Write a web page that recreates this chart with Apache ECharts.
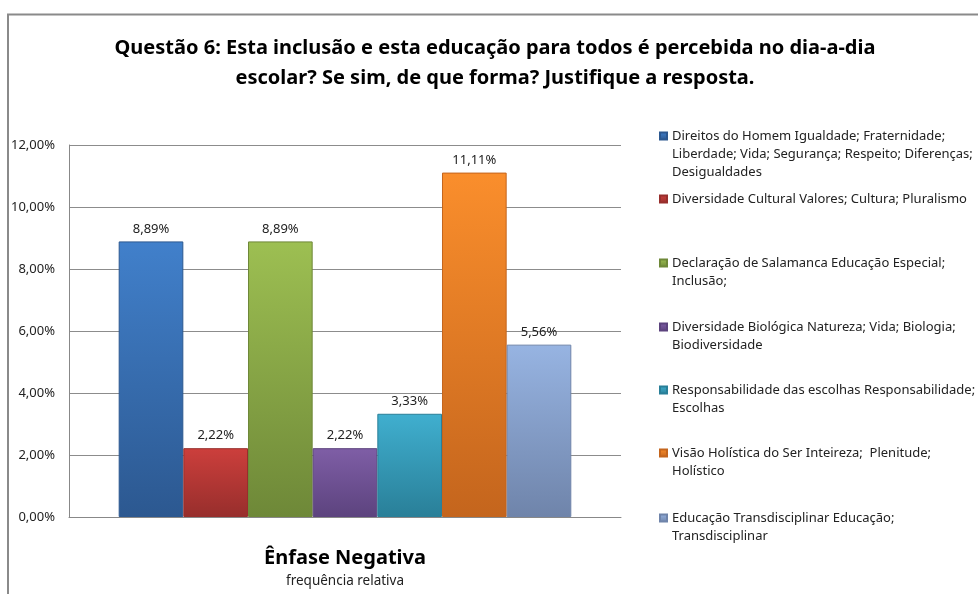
<!DOCTYPE html>
<html>
<head>
<meta charset="utf-8">
<script src="https://cdn.jsdelivr.net/npm/echarts@6/dist/echarts.min.js"></script>
<style>
  html, body { margin: 0; padding: 0; background: #fff; }
  #chart { width: 978px; height: 594px; }
</style>
</head>
<body>
<div id="chart"></div>
<script>
// Category on the x axis and its caption
const categories = ['Ênfase Negativa'];
const axisCaption = 'frequência relativa';

// Series names (line-broken as shown in the legend)
const seriesNames = [
  'Direitos do Homem Igualdade; Fraternidade;\nLiberdade; Vida; Segurança; Respeito; Diferenças;\nDesigualdades',
  'Diversidade Cultural Valores; Cultura; Pluralismo',
  'Declaração de Salamanca Educação Especial;\nInclusão;',
  'Diversidade Biológica Natureza; Vida; Biologia;\nBiodiversidade',
  'Responsabilidade das escolhas Responsabilidade;\nEscolhas',
  'Visão Holística do Ser Inteireza;  Plenitude;\nHolístico',
  'Educação Transdisciplinar Educação;\nTransdisciplinar'
];

// Relative frequency (%) of each series
const seriesValues = [8.89, 2.22, 8.89, 2.22, 3.33, 11.11, 5.56];

// Y axis ticks (%)
const yMin = 0, yMax = 12, yStep = 2;

// Bar colours: [top, bottom]
const barColors = [
  ['#4180cb', '#2c5890'],
  ['#cc3f3c', '#972e2c'],
  ['#9dbf52', '#6e8838'],
  ['#7f5ea6', '#5c437e'],
  ['#40afcf', '#297f98'],
  ['#fa8e2c', '#c4651d'],
  ['#97b4e2', '#6f84aa']
];

const FONT = '"Noto Sans", sans-serif';
const fmt = v => v.toFixed(2).replace('.', ',') + '%';

// Vertical centre of each legend entry's first line
const legendCenters = [136, 199, 263, 327, 390, 453, 518];
const LINE_H = 18;

// One legend per entry; blank lines above the text keep the marker
// level with the entry's first line.
const legends = seriesNames.map((name, i) => {
  const lines = name.split('\n').length;
  const total = 2 * lines - 1;
  return {
    show: true,
    orient: 'vertical',
    left: 659,
    top: legendCenters[i] - total * LINE_H / 2,
    padding: 0,
    itemWidth: 7,
    itemHeight: 7,
    icon: 'rect',
    data: [name],
    formatter: n => '\n'.repeat(lines - 1) + n,
    textStyle: {
      fontFamily: FONT,
      fontSize: 13,
      color: '#222',
      lineHeight: LINE_H,
      backgroundColor: 'rgba(0,0,0,0)'
    }
  };
});

const series = seriesNames.map((name, i) => ({
  type: 'bar',
  name: name,
  data: [seriesValues[i]],
  barGap: '0%',
  barCategoryGap: '18%',
  itemStyle: {
    color: {
      type: 'linear', x: 0, y: 0, x2: 0, y2: 1,
      colorStops: [
        { offset: 0, color: barColors[i][0] },
        { offset: 1, color: barColors[i][1] }
      ]
    },
    borderColor: barColors[i][1],
    borderWidth: 1
  },
  label: {
    show: true,
    position: 'top',
    distance: 6,
    formatter: p => fmt(p.value),
    fontFamily: FONT,
    fontSize: 13,
    color: '#222'
  }
}));

const chart = echarts.init(document.getElementById('chart'), null, { renderer: 'canvas' });
chart.setOption({
  backgroundColor: '#fff',
  animation: false,
  title: {
    text: 'Questão 6: Esta inclusão e esta educação para todos é percebida no dia-a-dia\nescolar? Se sim, de que forma? Justifique a resposta.',
    left: 495,
    textAlign: 'center',
    top: 33,
    padding: 0,
    textStyle: {
      fontFamily: FONT,
      fontWeight: 'bold',
      fontSize: 20,
      lineHeight: 30,
      color: '#000'
    }
  },
  graphic: [{
    type: 'rect',
    silent: true,
    shape: { x: 8, y: 14.5, width: 1000, height: 700 },
    style: { fill: 'none', stroke: '#8a8a8a', lineWidth: 2 }
  }],
  legend: legends,
  grid: { left: 69, right: 357, top: 145, bottom: 77 },
  xAxis: {
    type: 'category',
    data: categories,
    axisLine: { lineStyle: { color: '#888', width: 1 } },
    axisTick: { show: false },
    axisLabel: {
      margin: 31,
      fontFamily: FONT,
      fontSize: 20,
      fontWeight: 'bold',
      color: '#000'
    },
    name: axisCaption,
    nameLocation: 'middle',
    nameGap: 57,
    nameTextStyle: { fontFamily: FONT, fontSize: 13.5, color: '#222' }
  },
  yAxis: {
    type: 'value',
    min: yMin,
    max: yMax,
    interval: yStep,
    axisLine: { show: true, lineStyle: { color: '#888', width: 1 } },
    axisTick: { show: false },
    splitLine: { lineStyle: { color: '#8c8c8c', width: 1 } },
    axisLabel: {
      margin: 14,
      formatter: v => fmt(v),
      fontFamily: FONT,
      fontSize: 13,
      color: '#222'
    }
  },
  series: series
});
</script>
</body>
</html>
